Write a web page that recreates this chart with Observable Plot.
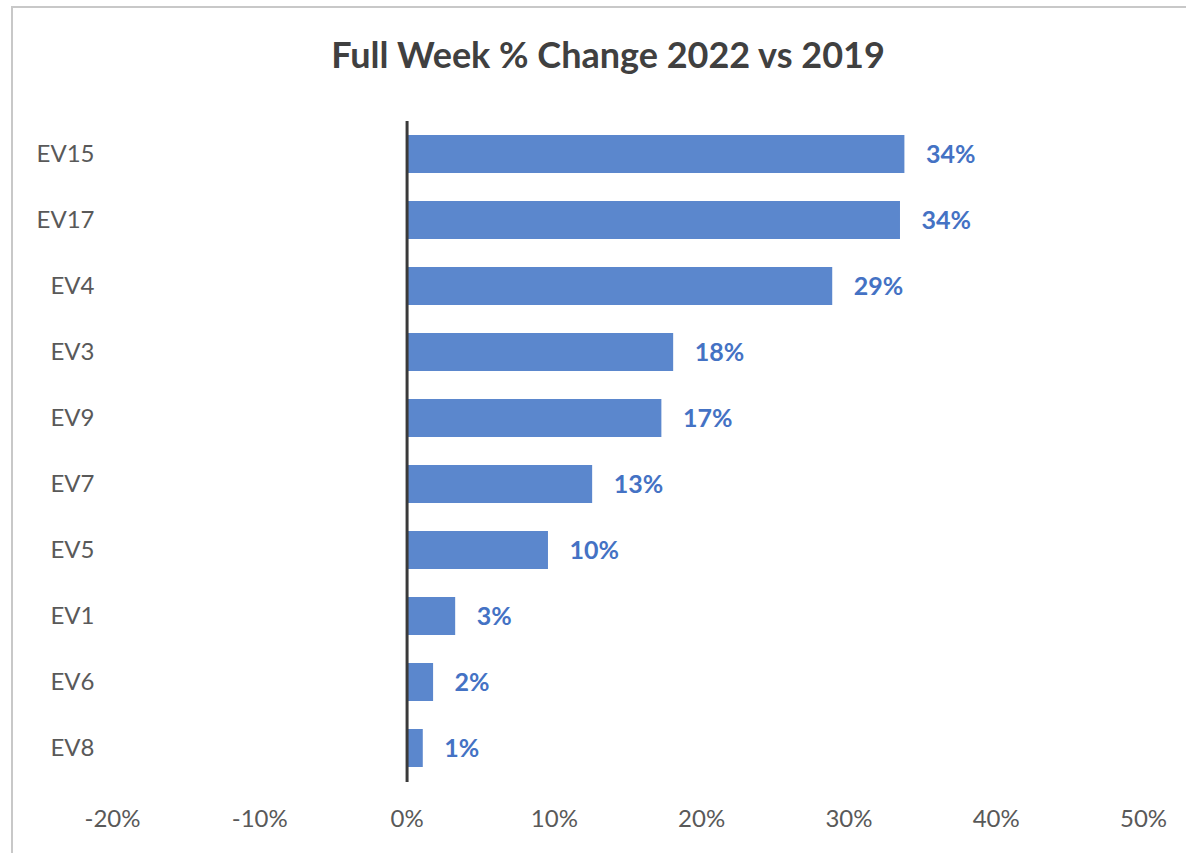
<!DOCTYPE html>
<html>
<head>
<meta charset="utf-8">
<script src="https://cdn.jsdelivr.net/npm/d3@7"></script>
<script src="https://cdn.jsdelivr.net/npm/@observablehq/plot@0.6"></script>
<style>
  html, body { margin: 0; background: #fff; width: 1186px; height: 853px; overflow: hidden; }
  body { position: relative; }
  #frame { position: absolute; left: 11px; top: 6px; width: 1173px; height: 847px;
           border-top: 2px solid #c8c8c8; border-left: 2px solid #c8c8c8; }
  #title { position: absolute; left: 0; top: 33px; width: 1216px; text-align: center;
           font-family: Lato, "Open Sans", sans-serif; font-weight: bold; font-size: 36px;
           line-height: 42px; color: #404040; }
  #chart { position: absolute; left: 0; top: 100px; }
</style>
</head>
<body>
<div id="frame"></div>
<div id="title">Full Week % Change 2022 vs 2019</div>
<div id="chart"></div>
<script>
const categories = ["EV15", "EV17", "EV4", "EV3", "EV9", "EV7", "EV5", "EV1", "EV6", "EV8"];
const values = [0.338, 0.335, 0.289, 0.181, 0.173, 0.126, 0.096, 0.033, 0.018, 0.011];
const xTicks = [-0.2, -0.1, 0, 0.1, 0.2, 0.3, 0.4, 0.5];

const data = categories.map((name, i) => ({ name, value: values[i] }));
const pct = v => Math.round(v * 100) + "%";

const chart = Plot.plot({
  width: 1186,
  height: 742,
  marginLeft: 112,
  marginRight: 43,
  marginTop: 21,
  marginBottom: 60,
  style: { fontFamily: "Lato, 'Open Sans', sans-serif", fontSize: "24px", color: "#595959", background: "transparent", overflow: "visible" },
  x: { domain: [-0.2, 0.5], ticks: xTicks, tickFormat: pct, label: null, tickSize: 0, tickPadding: 27 },
  y: { domain: categories, paddingInner: 0.42, paddingOuter: 0.21, label: null, tickSize: 0, tickPadding: 18 },
  marks: [
    Plot.barX(data, { y: "name", x: "value", fill: "#5b87cd" }),
    Plot.ruleX([0], { stroke: "#3a3a3a", strokeWidth: 3 }),
    Plot.text(data, { y: "name", x: "value", text: d => pct(d.value), dx: 21, textAnchor: "start",
                      fill: "#4472c4", fontWeight: "bold", fontSize: 25 })
  ]
});
document.getElementById("chart").appendChild(chart);
</script>
</body>
</html>
